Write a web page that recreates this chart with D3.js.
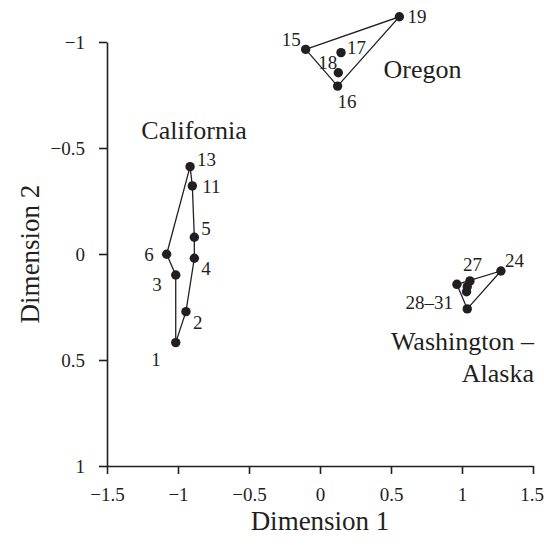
<!DOCTYPE html>
<html><head><meta charset="utf-8">
<script src="https://cdn.jsdelivr.net/npm/d3@7"></script>
<style>
html,body{margin:0;padding:0;background:#fff;}
svg{display:block;}
text{font-family:"Liberation Serif","Times New Roman",serif;fill:#231f20;}
</style></head>
<body>
<script>
// --- data ---
const ids     = ["1","2","3","4","5","6","11","13","15","16","17","18","19","24","27","28","29","30","31"];
const groups  = ["CA","CA","CA","CA","CA","CA","CA","CA","OR","OR","OR","OR","OR","WA","WA","WA","WA","WA","WA"];
const dim1    = [-1.016,-0.944,-1.016,-0.885,-0.885,-1.080,-0.899,-0.915,-0.101,0.124,0.148,0.129,0.559,1.274,1.056,0.964,1.037,1.032,1.037];
const dim2    = [0.418,0.272,0.099,0.020,-0.079,0.001,-0.321,-0.412,-0.965,-0.792,-0.950,-0.855,-1.119,0.080,0.127,0.143,0.154,0.178,0.259];
const hullCA  = ["13","11","5","4","2","1","3","6"];
const hullOR  = ["15","19","16"];
const hullWA  = ["28","24","31"];
const pointLabels = ["1","2","3","4","5","6","11","13","15","16","17","18","19","24","27","28–31"];
const labelOf     = ["1","2","3","4","5","6","11","13","15","16","17","18","19","24","27","28"];
const groupNames  = ["California","Oregon","Washington –","Alaska"];
const xTicks = [-1.5,-1,-0.5,0,0.5,1,1.5];
const yTicks = [-1,-0.5,0,0.5,1];
const xTitle = "Dimension 1", yTitle = "Dimension 2";

// --- layout / style ---
const W = 544, H = 547;
const x = d3.scaleLinear().domain([-1.5,1.5]).range([107,533]);
const y = d3.scaleLinear().domain([-1,1]).range([42,466]);
// label offsets (px) and anchors, per label
const labOff = [[-15,23,"end"],[7,17,"start"],[-14,16,"end"],[7,17,"start"],[7,-2,"start"],[-13,7,"end"],[10,7,"start"],[7,-1,"start"],
                [-5,-3,"end"],[0,22,"start"],[6,1,"start"],[-1,-4,"end"],[8,6,"start"],[4,-4,"start"],[-7,-10,"start"],[-4,25,"end"]];
const groupPos = [[-0.887,-0.5425,"middle"],[0.722,-0.830,"middle"],[1.507,0.453,"end"],[1.507,0.604,"end"]];

const pts = ids.map((id,i)=>({id, g:groups[i], x:dim1[i], y:dim2[i]}));
const byId = Object.fromEntries(pts.map(p=>[p.id,p]));

const svg = d3.select("body").append("svg").attr("width",W).attr("height",H);

// axes
const xa = svg.append("g").attr("transform",`translate(0,${y(1)})`)
  .call(d3.axisBottom(x).tickValues(xTicks).tickSize(8).tickSizeOuter(0).tickPadding(14).tickFormat(d3.format("")));
const ya = svg.append("g").attr("transform",`translate(${x(-1.5)},0)`)
  .call(d3.axisLeft(y).tickValues(yTicks).tickSize(8).tickSizeOuter(0).tickPadding(14).tickFormat(d3.format("")));
[xa,ya].forEach(a=>{
  a.selectAll("path,line").attr("stroke","#231f20").attr("stroke-width",1.6);
  a.selectAll("text").attr("font-size",19).attr("fill","#231f20").style("font-family","'Liberation Serif',serif");
});
// keep the last x tick label inside the window
xa.selectAll(".tick text").filter(d=>d===xTicks[xTicks.length-1]).attr("dx",-1.5);

svg.append("text").attr("x",x(0)).attr("y",530).attr("text-anchor","middle").attr("font-size",27).text(xTitle);
svg.append("text").attr("transform",`translate(39,${y(0)}) rotate(-90)`).attr("text-anchor","middle").attr("font-size",27).text(yTitle);

// hulls
const line = d3.line().x(d=>x(d.x)).y(d=>y(d.y)).curve(d3.curveLinearClosed);
[hullCA,hullOR,hullWA].forEach(h=>{
  svg.append("path").attr("d",line(h.map(id=>byId[id]))).attr("fill","none").attr("stroke","#231f20").attr("stroke-width",1.3);
});

// points
svg.selectAll("circle.pt").data(pts).join("circle").attr("class","pt")
  .attr("cx",d=>x(d.x)).attr("cy",d=>y(d.y)).attr("r",4.7).attr("fill","#231f20");

// point labels
pointLabels.forEach((t,i)=>{
  const p = byId[labelOf[i]], o = labOff[i];
  svg.append("text").attr("x",x(p.x)+o[0]).attr("y",y(p.y)+o[1]).attr("text-anchor",o[2]).attr("font-size",19).text(t);
});

// group labels
groupNames.forEach((t,i)=>{
  const o = groupPos[i];
  svg.append("text").attr("x",x(o[0])).attr("y",y(o[1])).attr("text-anchor",o[2]).attr("font-size",26).text(t);
});
</script>
</body></html>
